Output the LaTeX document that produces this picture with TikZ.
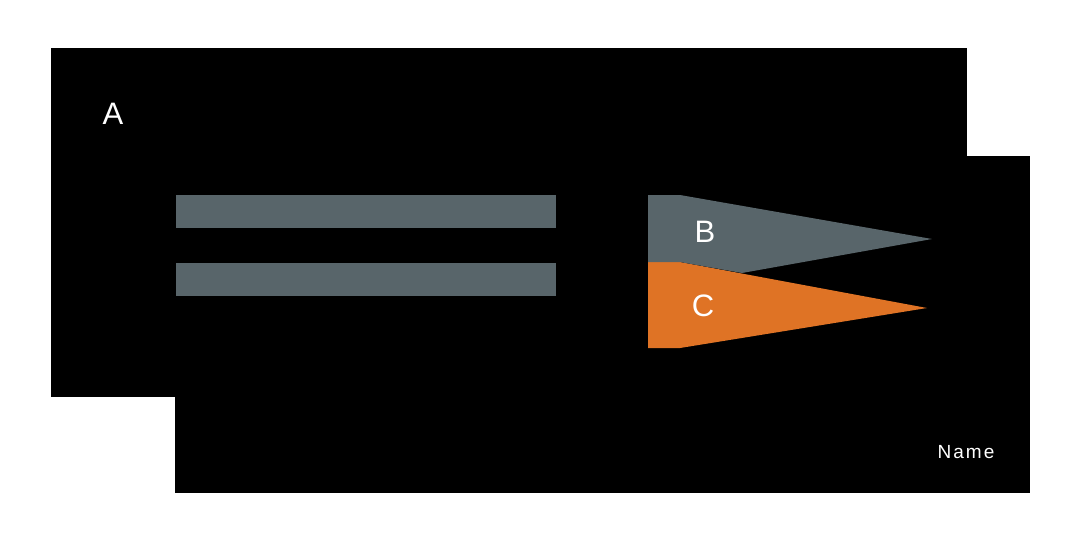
\documentclass[tikz,border=0pt]{standalone}
\usepackage{fontspec}
\setmainfont{Liberation Sans}
\definecolor{slate}{HTML}{58656A}
\definecolor{amber}{HTML}{DF7325}
\begin{document}
\begin{tikzpicture}[x=1pt,y=-1pt,
  lbl/.style={text=white,inner sep=0pt,font=\fontsize{31}{31}\selectfont},
  small/.style={text=white,inner sep=0pt,font=\fontsize{19}{19}\selectfont}]
\useasboundingbox (0,0) rectangle (1072,547);
\fill[white] (0,0) rectangle (1072,547);
\fill[black] (51,48) rectangle (967,397);
\fill[black] (175,156) rectangle (1030,493);
\fill[slate] (176,195) rectangle (556,228);
\fill[slate] (176,263) rectangle (556,296);
\fill[amber] (648,262) -- (680,262) -- (927,308) -- (680,348) -- (648,348) -- cycle;
\fill[slate] (648,195) -- (680,195) -- (932,239) -- (742,273) -- (680,262) -- (648,262) -- cycle;
\node[lbl] (a) at (113,114) {A};
\node[lbl] (b) at (705,232) {B};
\node[lbl] (c) at (703,306) {C};
\node[small] (name) at (966,452) {N\kern2pt a\kern2pt m\kern2pt e};
\end{tikzpicture}
\end{document}
